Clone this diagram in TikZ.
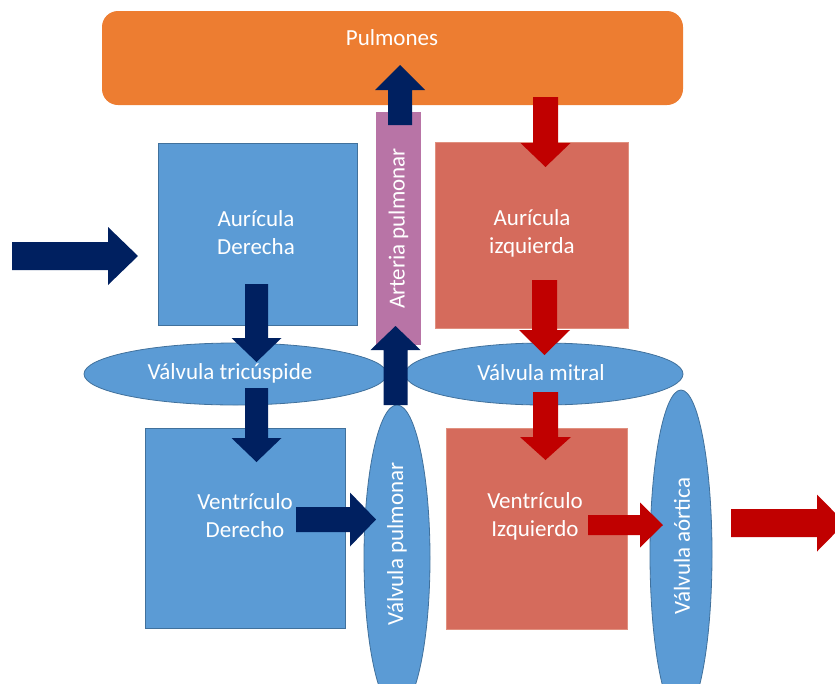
\documentclass[tikz,border=0pt]{standalone}
\usepackage{fontspec}
\setmainfont{Carlito}
\usetikzlibrary{shapes.geometric}
\definecolor{cblue}{HTML}{5B9BD5}
\definecolor{cblueline}{HTML}{41719C}
\definecolor{corange}{HTML}{ED7D31}
\definecolor{cpurple}{HTML}{B874A6}
\definecolor{cred}{HTML}{D56B5C}
\definecolor{credline}{HTML}{E0907F}
\definecolor{cnavy}{HTML}{002060}
\definecolor{cdark}{HTML}{C00000}
% horizontal block arrow: colour, x start, x tip, y centre, shaft half, head half, head length (signed)
\newcommand\arrH[7]{\fill[#1] (#2,{(#4)-(#5)}) -- ({(#3)-(#7)},{(#4)-(#5)}) -- ({(#3)-(#7)},{(#4)-(#6)}) -- (#3,#4) -- ({(#3)-(#7)},{(#4)+(#6)}) -- ({(#3)-(#7)},{(#4)+(#5)}) -- (#2,{(#4)+(#5)}) -- cycle;}
% vertical block arrow: colour, y start, y tip, x centre, shaft half, head half, head length (signed)
\newcommand\arrV[7]{\fill[#1] ({(#4)-(#5)},#2) -- ({(#4)-(#5)},{(#3)-(#7)}) -- ({(#4)-(#6)},{(#3)-(#7)}) -- (#4,#3) -- ({(#4)+(#6)},{(#3)-(#7)}) -- ({(#4)+(#5)},{(#3)-(#7)}) -- ({(#4)+(#5)},#2) -- cycle;}
\begin{document}
\begin{tikzpicture}[x=1pt,y=-1pt,
  txt/.style={text=white,font=\fontsize{23}{28}\selectfont,align=center,inner sep=0pt},
  bluebox/.style={rectangle,fill=cblue,draw=cblueline,line width=0.8pt,inner sep=0pt},
  redbox/.style={rectangle,fill=cred,draw=credline,line width=0.6pt,inner sep=0pt},
  valve/.style={ellipse,fill=cblue,draw=cblueline,line width=0.8pt,inner sep=0pt,
    text=white,font=\fontsize{23}{28}\selectfont}]
\useasboundingbox (0,0) rectangle (835,683);
\clip (0,0) rectangle (835,683);
% lungs
\node[fill=corange,rounded corners=16pt,minimum width=581pt,minimum height=94pt,inner sep=0pt] (pulm) at (392.5,58) {};
\node[txt] (pulmt) at (392,38) {Pulmones};
% pulmonary artery
\node[fill=cpurple,minimum width=233pt,minimum height=45pt,inner sep=0pt,rotate=90,
  text=white,font=\fontsize{23}{28}\selectfont] (art) at (398.5,228.5) {Arteria pulmonar};
% chambers
\node[bluebox,minimum width=199pt,minimum height=182pt] (ad) at (257.5,234) {};
\node[redbox,minimum width=193pt,minimum height=186pt] (ai) at (531.5,235) {};
\node[bluebox,minimum width=200pt,minimum height=200pt] (vd) at (245,528) {};
\node[redbox,minimum width=181pt,minimum height=201pt] (vi) at (536.5,528.5) {};
\node[txt] (adt) at (256,233) {Aurícula\\Derecha};
\node[txt] (ait) at (532,233) {Aurícula\\izquierda};
\node[txt] (vdt) at (245,516) {Ventrículo\\Derecho};
\node[txt] (vit) at (535,516) {Ventrículo\\Izquierdo};
% valves
\node[valve,minimum width=303pt,minimum height=62pt] (tric) at (235.5,374) {};
\node[txt] (trict) at (230,373) {Válvula tricúspide};
\node[valve,minimum width=278pt,minimum height=62pt] (mit) at (544,374) {};
\node[txt] (mitt) at (541,373) {Válvula mitral};
\node[valve,minimum width=306pt,minimum height=66pt,rotate=90] (vp) at (397,558) {};
\node[txt,rotate=90] (vpt) at (397,544) {Válvula pulmonar};
\node[valve,minimum width=328pt,minimum height=62pt,rotate=90] (va) at (681,554) {};
\node[txt,rotate=90] (vat) at (682,546) {Válvula aórtica};
% navy arrows (deoxygenated blood)
\arrH{cnavy}{12}{138}{256}{14}{29}{30}
\arrV{cnavy}{284}{362}{256.5}{11.5}{25}{24}
\arrV{cnavy}{388}{462}{256.5}{11.5}{25}{24}
\arrH{cnavy}{296}{376}{519.5}{12.5}{27}{26}
\arrV{cnavy}{405}{326}{395.5}{12}{25}{-24}
\arrV{cnavy}{125}{65}{400}{12}{25}{-25}
% red arrows (oxygenated blood)
\arrV{cdark}{97}{167}{545.5}{12.5}{25}{24}
\arrV{cdark}{280}{355}{544.5}{12.5}{25.5}{25}
\arrV{cdark}{392}{460}{545.5}{12.5}{25.5}{23}
\arrH{cdark}{588}{663}{525}{10}{22.5}{23}
\arrH{cdark}{731}{845}{523}{14}{28.5}{28}
\end{tikzpicture}
\end{document}
